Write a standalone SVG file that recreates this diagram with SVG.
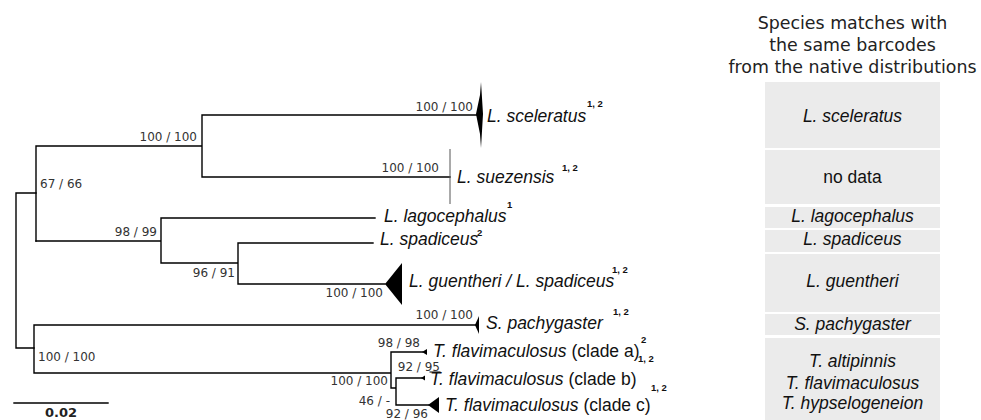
<svg xmlns="http://www.w3.org/2000/svg" width="981" height="420" viewBox="0 0 981 420">
<style>
.br{stroke:#000;stroke-width:1.4;fill:none;stroke-linecap:square}
.thin{stroke:#555;stroke-width:1;fill:none}
.tri{fill:#000;stroke:none}
.sup{font-family:'DejaVu Sans','Liberation Sans',sans-serif;font-size:12px;fill:#333}
.sp{font-family:'Liberation Sans',Arial,sans-serif;font-size:17.5px;font-style:italic;fill:#111}
.rm{font-style:normal}
.ss{font-family:'Liberation Sans',Arial,sans-serif;font-size:9.5px;font-weight:bold;fill:#111}
.ttl{font-family:'DejaVu Sans',Verdana,sans-serif;font-size:17.4px;fill:#222;text-anchor:middle}
.box{fill:#ebebeb}
.bt{font-family:'Liberation Sans',Arial,sans-serif;font-size:17.5px;font-style:italic;fill:#111;text-anchor:middle}
</style>
<rect width="981" height="420" fill="#fff"/>
<g id="connectors">
<path class="br" d="M16,193V348M16,193H36M16,348H34"/>
<path class="br" d="M36,146V241M36,146H202M202,115V177M202,115H477M202,177H450"/>
<path class="thin" d="M450,149V204"/>
<path class="br" d="M36,241H161M161,218V263M161,218H375M161,263H238M238,243V284M238,243H373M238,284H385"/>
<path class="br" d="M34,325V373M34,325H476M34,373H391M391,352V388M391,352H423M391,388H396M396,378V405M396,378H422M396,405H429"/>
<path class="br" d="M430,372H440" style="stroke-width:1"/>
<path class="br" d="M14,403H108"/>
</g>
<g id="clade-sceleratus">
<polygon class="tri" points="476,114 480,95 481,82 483,114 481,148 480,134"/>
<text class="sp" x="487" y="122">L. sceleratus</text>
<text class="ss" x="587" y="107">1, 2</text>
</g>
<g id="clade-suezensis">
<text class="sp" x="457" y="183">L. suezensis</text>
<text class="ss" x="562" y="171">1, 2</text>
</g>
<g id="leaf-lagocephalus">
<text class="sp" x="384" y="222">L. lagocephalus</text>
<text class="ss" x="507" y="208">1</text>
</g>
<g id="leaf-spadiceus">
<text class="sp" x="380" y="245">L. spadiceus</text>
<text class="ss" x="477" y="236">2</text>
</g>
<g id="clade-guentheri">
<polygon class="tri" points="385,284 402,263 402,305"/>
<text class="sp" x="409" y="287">L. guentheri / L. spadiceus</text>
<text class="ss" x="612" y="273">1, 2</text>
</g>
<g id="clade-pachygaster">
<polygon class="tri" points="475,325 479,316 479,334"/>
<text class="sp" x="486" y="329">S. pachygaster</text>
<text class="ss" x="613" y="315">1, 2</text>
</g>
<g id="clade-a">
<polygon class="tri" points="422,352 427,349 427,355"/>
<text class="sp" x="433" y="357">T. flavimaculosus <tspan class="rm">(clade a)</tspan></text>
<text class="ss" x="641" y="343">2</text>
</g>
<g id="clade-b">
<polygon class="tri" points="421,378 425,375.5 425,380.5"/>
<text class="sp" x="430" y="385">T. flavimaculosus <tspan class="rm">(clade b)</tspan></text>
<text class="ss" x="638" y="362">1, 2</text>
</g>
<g id="clade-c">
<polygon class="tri" points="428,405 439,397 439,413"/>
<text class="sp" x="445" y="411">T. flavimaculosus <tspan class="rm">(clade c)</tspan></text>
<text class="ss" x="651" y="391">1, 2</text>
</g>
<g id="support-labels">
<text class="sup" x="197" y="141" text-anchor="end">100 / 100</text>
<text class="sup" x="473" y="111" text-anchor="end">100 / 100</text>
<text class="sup" x="439" y="172" text-anchor="end">100 / 100</text>
<text class="sup" x="40" y="188">67 / 66</text>
<text class="sup" x="157" y="236" text-anchor="end">98 / 99</text>
<text class="sup" x="235" y="277" text-anchor="end">96 / 91</text>
<text class="sup" x="383" y="297" text-anchor="end">100 / 100</text>
<text class="sup" x="473" y="319" text-anchor="end">100 / 100</text>
<text class="sup" x="38" y="361">100 / 100</text>
<text class="sup" x="420" y="347" text-anchor="end">98 / 98</text>
<text class="sup" x="440" y="371" text-anchor="end">92 / 95</text>
<text class="sup" x="388" y="385" text-anchor="end">100 / 100</text>
<text class="sup" x="390" y="405" text-anchor="end">46 / -</text>
<text class="sup" x="428" y="418" text-anchor="end">92 / 96</text>
</g>
<g id="scale">
<text x="61" y="417" text-anchor="middle" style="font-family:'DejaVu Sans',sans-serif;font-size:13px;font-weight:bold;fill:#222">0.02</text>
</g>
<g id="matches-panel">
<text class="ttl" x="852.5" y="29">Species matches with</text>
<text class="ttl" x="852.5" y="51">the same barcodes</text>
<text class="ttl" x="852.5" y="73">from the native distributions</text>
<rect class="box" x="765" y="82" width="175" height="66"/>
<rect class="box" x="765" y="150" width="175" height="54"/>
<rect class="box" x="765" y="207" width="175" height="21"/>
<rect class="box" x="765" y="230" width="175" height="22"/>
<rect class="box" x="765" y="254" width="175" height="58"/>
<rect class="box" x="765" y="314" width="175" height="21"/>
<rect class="box" x="765" y="338" width="175" height="82"/>
<text class="bt" x="852.5" y="122">L. sceleratus</text>
<text class="bt" x="852.5" y="183" style="font-style:normal">no data</text>
<text class="bt" x="852.5" y="222">L. lagocephalus</text>
<text class="bt" x="852.5" y="245">L. spadiceus</text>
<text class="bt" x="852.5" y="287">L. guentheri</text>
<text class="bt" x="852.5" y="330">S. pachygaster</text>
<text class="bt" x="852.5" y="367">T. altipinnis</text>
<text class="bt" x="852.5" y="389">T. flavimaculosus</text>
<text class="bt" x="852.5" y="409">T. hypselogeneion</text>
</g>
</svg>
